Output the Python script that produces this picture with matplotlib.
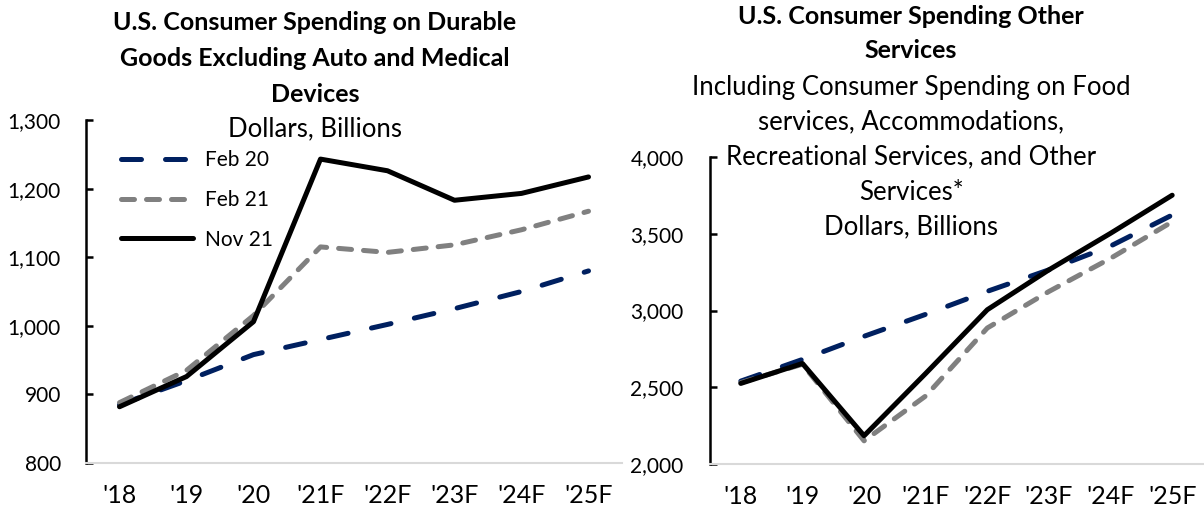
import matplotlib
matplotlib.use("Agg")
import matplotlib.pyplot as plt

plt.rcParams['font.family'] = ['Lato', 'DejaVu Sans']

years = ["'18", "'19", "'20", "'21F", "'22F", "'23F", "'24F", "'25F"]

# Left panel: durable goods excl. auto and medical devices ($B)
dur_feb20 = [885, 920, 958, 980, 1002, 1025, 1050, 1080]
dur_feb21 = [888, 935, 1015, 1115, 1107, 1118, 1140, 1167]
dur_nov21 = [882, 926, 1006, 1243, 1226, 1183, 1193, 1217]

# Right panel: other services ($B)
svc_feb20 = [2540, 2681, 2832, 2975, 3125, 3265, 3420, 3622]
svc_feb21 = [2530, 2650, 2151, 2443, 2886, 3124, 3340, 3578]
svc_nov21 = [2525, 2655, 2184, 2590, 3005, 3265, 3503, 3751]

series_labels = ["Feb 20", "Feb 21", "Nov 21"]
left_ticks = [800, 900, 1000, 1100, 1200, 1300]
right_ticks = [2000, 2500, 3000, 3500, 4000]

left_title = ["U.S. Consumer Spending on Durable",
              "Goods Excluding Auto and Medical",
              "Devices"]
left_sub = ["Dollars, Billions"]
right_title = ["U.S. Consumer Spending Other", "Services"]
right_sub = ["Including Consumer Spending on Food",
             "services, Accommodations,",
             "Recreational Services, and Other",
             "Services*",
             "Dollars, Billions"]

NAVY = "#002060"
GRAY = "#808080"
BLACK = "#000000"
LW = 3.6
styles = [
    dict(color=NAVY, lw=LW, dashes=(4.0, 4.8), dash_capstyle='round'),
    dict(color=GRAY, lw=LW, dashes=(2.6, 2.4), dash_capstyle='round'),
    dict(color=BLACK, lw=LW, solid_capstyle='round', solid_joinstyle='round'),
]

W, H = 1204, 509
fig = plt.figure(figsize=(W / 100, H / 100), dpi=100)

def make_ax(x0, x1, ytop, ybot):
    return fig.add_axes([x0 / W, 1 - ybot / H, (x1 - x0) / W, (ybot - ytop) / H])

axL = make_ax(86, 622, 120, 463)
axR = make_ax(710, 1203, 157, 464)

XFS = 18
YFS = 15
TFS = 18
SFS = 18.5

def style_ax(ax, ticks, ypad):
    ax.set_xlim(-0.5, len(years) - 0.5)
    ax.set_xticks(range(len(years)))
    ax.set_xticklabels(years, fontsize=XFS)
    ax.set_yticks(ticks)
    ax.set_yticklabels(["{:,}".format(t) for t in ticks], fontsize=YFS)
    ax.set_ylim(ticks[0], ticks[-1])
    for s in ['top', 'right']:
        ax.spines[s].set_visible(False)
    ax.spines['left'].set_color('black')
    ax.spines['left'].set_linewidth(1.8)
    ax.spines['bottom'].set_color('#d9d9d9')
    ax.spines['bottom'].set_linewidth(1.5)
    ax.tick_params(axis='x', length=0, pad=15)
    ax.tick_params(axis='y', direction='in', length=5, width=1.8, pad=ypad)
    ax.patch.set_alpha(0)

x = list(range(len(years)))
for data, st, lab in zip([dur_feb20, dur_feb21, dur_nov21], styles, series_labels):
    axL.plot(x, data, label=lab, **st)
for data, st in zip([svc_feb20, svc_feb21, svc_nov21], styles):
    axR.plot(x, data, **st)

style_ax(axL, left_ticks, 18)
style_ax(axR, right_ticks, 19)

axL.legend(loc='upper left', bbox_to_anchor=(0.066, 0.912), frameon=False,
           fontsize=YFS, handlelength=3.45, labelspacing=0.95, handletextpad=0.55,
           borderaxespad=0, borderpad=0)

# Titles (one text per line, at the reference line positions)
def put_lines(lines, xc, y0, step, weight, fs):
    for i, ln in enumerate(lines):
        fig.text(xc / W, 1 - (y0 + i * step) / H, ln, ha='center', va='center',
                 fontsize=fs, fontweight=weight)

put_lines(left_title, 315, 23, 35.5, 'bold', TFS)
put_lines(left_sub, 315, 129, 35, 'normal', SFS)
put_lines(right_title, 911, 16, 35, 'bold', TFS)
put_lines(right_sub, 911, 87, 35, 'normal', SFS)

fig.savefig("out.png", dpi=100)
